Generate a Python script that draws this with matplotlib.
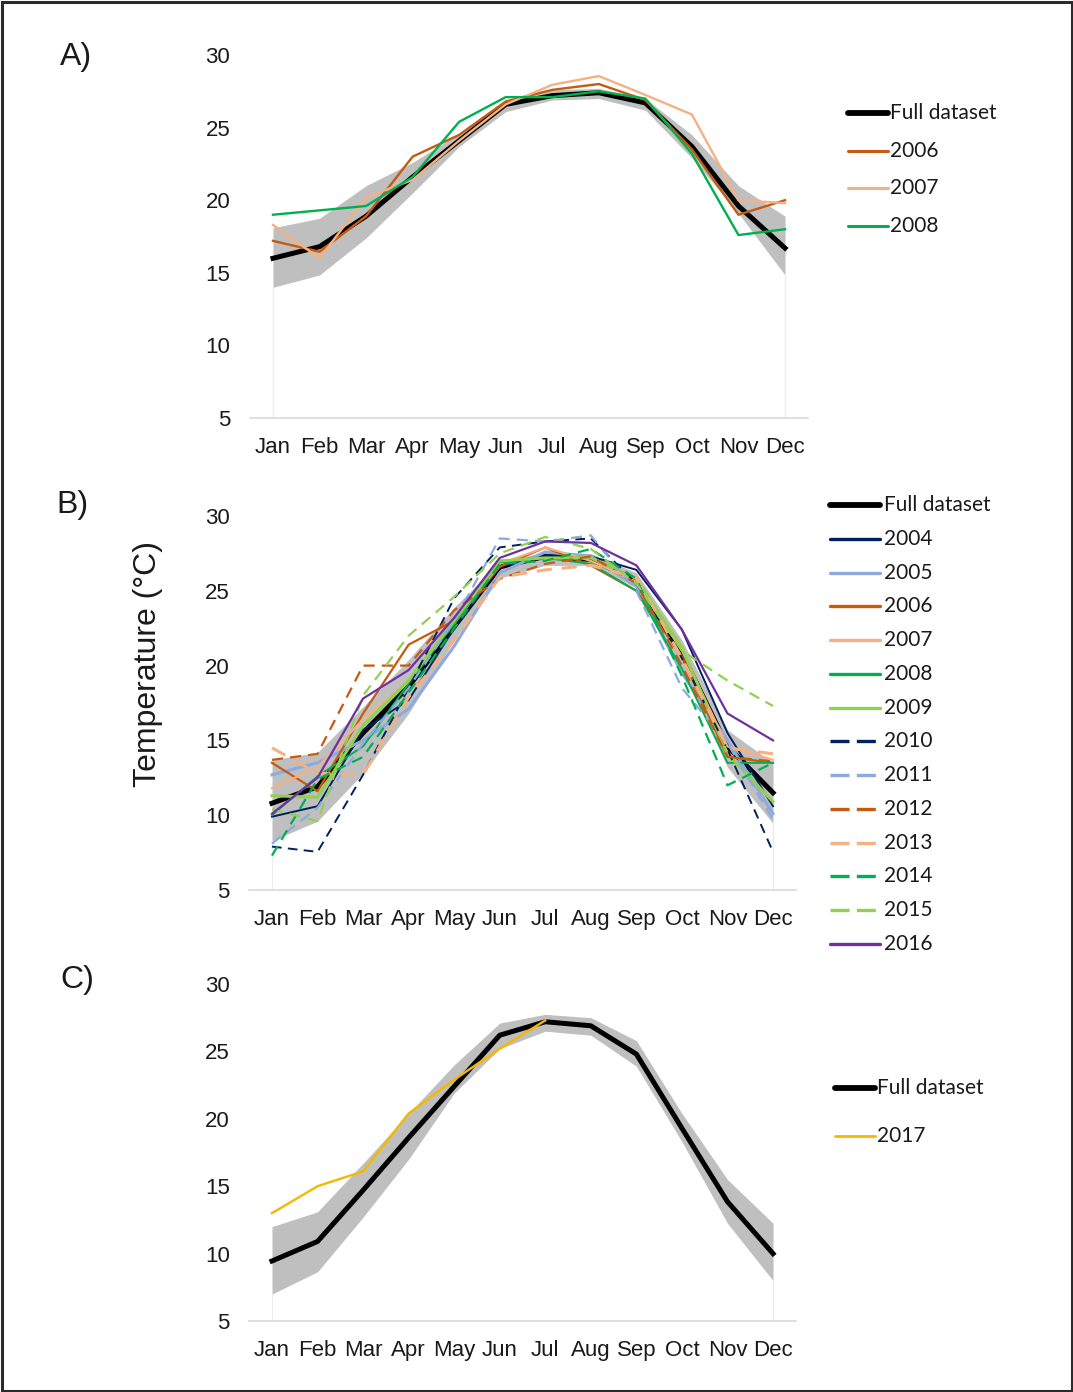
import numpy as np
import matplotlib.pyplot as plt
from matplotlib.lines import Line2D
from matplotlib.patches import Rectangle

# 月份
months = ['Jan', 'Feb', 'Mar', 'Apr', 'May', 'Jun', 'Jul', 'Aug', 'Sep', 'Oct', 'Nov', 'Dec']

# A) 数据
a_full = [16.0, 16.8, 18.9, 21.6, 24.1, 26.6, 27.2, 27.4, 26.7, 23.7, 19.6, 16.7]
a_low = [14.0, 14.85, 17.4, 20.5, 23.7, 26.1, 26.9, 27.0, 26.2, 22.9, 19.1, 14.85]
a_high = [18.1, 18.75, 21.0, 22.6, 24.6, 26.9, 27.6, 27.7, 27.0, 24.5, 21.0, 18.9]
a_2006 = [17.2, 16.45, 18.9, 23.0, 24.5, 26.8, 27.6, 28.0, 26.9, 23.5, 19.0, 20.0]
a_2007 = [18.3, 16.0, 20.2, 21.4, 24.1, 26.6, 27.95, 28.55, 27.25, 25.9, 20.0, 19.8]
a_2008 = [19.0, 19.3, 19.6, 21.6, 25.4, 27.1, 27.1, 27.5, 27.0, 23.2, 17.6, 18.0]

# B) 数据
b_full = [10.8, 11.9, 15.5, 18.6, 22.6, 26.6, 27.3, 27.1, 25.7, 20.8, 14.6, 11.5]
b_low = [8.3, 9.6, 12.8, 16.8, 21.7, 25.85, 26.7, 26.7, 25.2, 19.9, 13.2, 9.45]
b_high = [13.7, 14.2, 17.25, 20.4, 23.9, 26.9, 27.6, 27.5, 26.2, 21.7, 15.7, 13.5]
b_2004 = [9.9, 10.6, 15.7, 17.7, 22.5, 26.6, 27.4, 27.3, 26.4, 22.4, 15.5, 10.6]
b_2005 = [12.7, 13.5, 15.0, 17.1, 21.3, 26.2, 27.6, 27.3, 25.3, 19.5, 15.0, 10.1]
b_2006 = [13.5, 11.6, 16.8, 21.4, 23.0, 26.6, 27.9, 26.7, 25.0, 20.6, 13.9, 13.5]
b_2007 = [11.8, 13.2, 16.4, 19.0, 22.8, 26.8, 27.9, 27.0, 25.6, 21.0, 14.6, 13.7]
b_2008 = [10.0, 12.6, 14.6, 18.8, 22.8, 26.9, 27.2, 26.8, 25.0, 19.8, 13.5, 13.5]
b_2009 = [11.3, 11.2, 16.0, 19.0, 23.0, 27.0, 27.2, 27.2, 25.8, 21.2, 14.1, 10.9]
b_2010 = [7.9, 7.55, 12.7, 18.5, 24.5, 27.9, 28.3, 28.5, 25.5, 20.5, 14.4, 7.55]
b_2011 = [8.1, 10.5, 14.8, 18.5, 23.0, 28.5, 28.3, 28.7, 25.0, 18.5, 14.8, 9.7]
b_2012 = [13.7, 14.1, 20.0, 20.0, 23.7, 25.8, 26.8, 27.3, 25.5, 20.0, 13.9, 13.6]
b_2013 = [14.5, 12.8, 12.7, 17.9, 21.7, 25.9, 26.4, 26.7, 25.9, 20.5, 14.5, 14.1]
b_2014 = [7.3, 12.4, 13.9, 18.2, 22.5, 26.8, 27.0, 27.8, 25.8, 19.3, 12.0, 13.5]
b_2015 = [10.4, 9.6, 18.0, 22.0, 24.6, 27.5, 28.6, 27.8, 25.5, 21.0, 19.0, 17.3]
b_2016 = [10.1, 12.5, 17.8, 19.7, 23.2, 27.2, 28.3, 28.2, 26.7, 22.4, 16.8, 15.0]

# C) 数据
c_full = [9.45, 10.9, 14.7, 18.6, 22.4, 26.2, 27.2, 26.9, 24.8, 19.3, 13.85, 10.0]
c_low = [7.0, 8.65, 12.7, 17.0, 21.9, 25.2, 26.5, 26.2, 23.9, 18.3, 12.25, 8.0]
c_high = [12.0, 13.1, 16.7, 20.4, 24.0, 27.1, 27.75, 27.5, 25.8, 20.4, 15.5, 12.25]
c_2017 = [13.0, 15.0, 16.1, 20.4, 22.9, 25.2, 27.3, np.nan, np.nan, np.nan, np.nan, np.nan]

# 颜色
navy = '#002060'
lblue = '#8EA9DB'
dorange = '#C55A11'
lorange = '#F4B183'
green = '#00B050'
lgreen = '#92D050'
purple = '#7030A0'
yellow = '#F5B800'
band = '#BFBFBF'
dash = (0, (5, 3.2))

# (标签, 数据, 颜色, 线宽, 线型)
a_years = [('2006', a_2006, dorange, 1.7, '-'),
           ('2007', a_2007, lorange, 1.7, '-'),
           ('2008', a_2008, green, 1.7, '-')]
b_years = [('2004', b_2004, navy, 1.4, '-'),
           ('2005', b_2005, lblue, 2.2, '-'),
           ('2006', b_2006, dorange, 1.6, '-'),
           ('2007', b_2007, lorange, 1.6, '-'),
           ('2008', b_2008, green, 1.4, '-'),
           ('2009', b_2009, lgreen, 2.2, '-'),
           ('2010', b_2010, navy, 1.4, dash),
           ('2011', b_2011, lblue, 1.6, dash),
           ('2012', b_2012, dorange, 1.6, dash),
           ('2013', b_2013, lorange, 2.2, dash),
           ('2014', b_2014, green, 1.6, dash),
           ('2015', b_2015, lgreen, 1.6, dash),
           ('2016', b_2016, purple, 1.6, '-')]
c_years = [('2017', c_2017, yellow, 1.7, '-')]

W, H = 1073, 1392
fig = plt.figure(figsize=(W / 100, H / 100), dpi=100)
plt.rcParams['font.family'] = ['Liberation Sans', 'DejaVu Sans']

x = np.arange(12)


def make_panel(rect_px, full, low, high, years):
    # rect_px: (left, right, top, bottom) 像素
    l, r, t, b = rect_px
    ax = fig.add_axes([l / W, 1 - b / H, (r - l) / W, (b - t) / H])
    ax.fill_between(x, low, high, color=band, lw=0, zorder=1)
    # 面积图边缘的淡灰竖线
    ax.vlines([x[0], x[-1]], 5, [low[0], low[-1]], color='#EDEDED', lw=1, zorder=0.5)
    ax.plot(x, full, color='black', lw=3.6, solid_joinstyle='round', zorder=2)
    for lab, ys, col, lw, ls in years:
        ax.plot(x, ys, color=col, lw=lw, linestyle=ls, zorder=3)
    ax.set_xlim(-0.5, 11.5)
    ax.set_ylim(5, 30)
    ax.set_xticks(x)
    ax.set_xticklabels(months)
    ax.set_yticks([5, 10, 15, 20, 25, 30])
    for s in ['top', 'right', 'left']:
        ax.spines[s].set_visible(False)
    ax.spines['bottom'].set_color('#D9D9D9')
    ax.spines['bottom'].set_linewidth(1.2)
    ax.tick_params(axis='both', length=0, labelsize=16, labelcolor='#1a1a1a')
    ax.tick_params(axis='x', pad=13.5)
    ax.tick_params(axis='y', pad=14)
    return ax


make_panel((249.7, 808.3, 55, 418), a_full, a_low, a_high, a_years)
make_panel((249.2, 795.8, 516, 890), b_full, b_low, b_high, b_years)
make_panel((249.2, 795.8, 984, 1321), c_full, c_low, c_high, c_years)

# 覆盖层：图例、面板标签、边框（像素坐标）
ov = fig.add_axes([0, 0, 1, 1])
ov.set_xlim(0, W)
ov.set_ylim(H, 0)
ov.axis('off')


def draw_legend(x0, x1, tx, y0, dy, entries):
    for i, (lab, col, lw, ls) in enumerate(entries):
        y = y0 + i * dy
        ov.add_line(Line2D([x0, x1], [y, y], color=col, lw=lw, linestyle=ls,
                           solid_capstyle='round'))
        ov.text(tx, y, lab, fontsize=15, family=['Lato', 'DejaVu Sans'],
                color='#1a1a1a', va='center', ha='left')


legend_dash = (0, (5.7, 2.2))
full_entry = ('Full dataset', 'black', 4.2, '-')
draw_legend(848, 888, 890, 113, 37.6,
            [full_entry] + [(lab, col, 2.2, '-') for lab, ys, col, lw, ls in a_years])
draw_legend(830, 880, 884, 505, 33.77,
            [full_entry] + [(lab, col, 2.4, '-' if ls == '-' else legend_dash)
                            for lab, ys, col, lw, ls in b_years])
draw_legend(835, 875, 877, 1088, 48,
            [full_entry] + [(lab, col, 2.0, '-') for lab, ys, col, lw, ls in c_years])

# 面板标签
ov.text(76, 57, 'A)', fontsize=23, ha='center', va='center', color='#1a1a1a')
ov.text(72, 505, 'B)', fontsize=23, ha='center', va='center', color='#1a1a1a')
ov.text(77, 980, 'C)', fontsize=23, ha='center', va='center', color='#1a1a1a')

# 纵轴标题
ov.text(148, 664, 'Temperature (°C)', fontsize=23, rotation=90,
        ha='center', va='center', color='#1a1a1a')

# 外边框
ov.add_patch(Rectangle((1.5, 1.5), W - 3, H - 3, fill=False, lw=2.2, edgecolor='#2a2a2a'))

fig.savefig('out.png', dpi=100)
